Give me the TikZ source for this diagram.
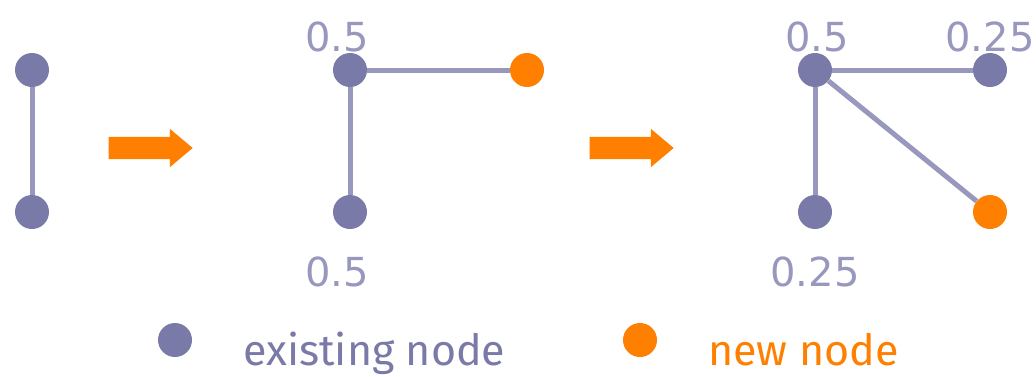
\documentclass[tikz,border=0pt]{standalone}
\usepackage{fontspec}
\setmainfont{DejaVu Sans}
\newfontfamily\legendfont{Fira Sans}
\usetikzlibrary{shapes.arrows}
\definecolor{nodepurple}{RGB}{122,122,168}
\definecolor{edgepurple}{RGB}{152,152,190}
\definecolor{neworange}{RGB}{255,128,0}
\tikzset{
  oldnode/.style={circle,fill=nodepurple,minimum size=34pt,inner sep=0pt},
  newnode/.style={circle,fill=neworange,minimum size=34pt,inner sep=0pt},
  edge/.style={draw=edgepurple,line width=5pt},
  prob/.style={text=edgepurple,font=\fontsize{40}{40}\selectfont,inner sep=0pt},
  bigarrow/.style={single arrow,fill=neworange,minimum height=84pt,inner xsep=0pt,inner ysep=11pt,single arrow head extend=8pt,single arrow tip angle=80,shape border rotate=0},
  legend/.style={font=\legendfont\fontsize{43}{43}\selectfont,anchor=base west,inner sep=0pt}
}
\begin{document}
\begin{tikzpicture}[x=1pt,y=-1pt]
\useasboundingbox (0,0) rectangle (1036,376);
% graph 1
\node[oldnode] (a1) at (32,70) {};
\node[oldnode] (a2) at (32,212) {};
\draw[edge] (a1) -- (a2);
% arrow 1
\node[bigarrow] (ar1) at (144,148) {};
% graph 2
\node[oldnode] (b1) at (350,70) {};
\node[oldnode] (b2) at (350,212) {};
\node[newnode] (b3) at (527,70) {};
\draw[edge] (b1) -- (b2);
\draw[edge] (b1) -- (b3);
\node[prob] (lb1) at (337,37) {0.5};
\node[prob] (lb2) at (337,272) {0.5};
% arrow 2
\node[bigarrow] (ar2) at (625,148) {};
% graph 3
\node[oldnode] (c1) at (815,70) {};
\node[oldnode] (c2) at (815,212) {};
\node[oldnode] (c3) at (990,70) {};
\node[newnode] (c4) at (990,212) {};
\draw[edge] (c1) -- (c2);
\draw[edge] (c1) -- (c3);
\draw[edge] (c1) -- (c4);
\node[prob] (lc1) at (817,37) {0.5};
\node[prob] (lc3) at (990,37) {0.25};
\node[prob] (lc2) at (815,272) {0.25};
% legend
\node[oldnode] (k1) at (175,340) {};
\node[legend,text=nodepurple] (t1) at (243,365) {existing node};
\node[newnode] (k2) at (640,340) {};
\node[legend,text=neworange] (t2) at (708,365) {new node};
\end{tikzpicture}
\end{document}
